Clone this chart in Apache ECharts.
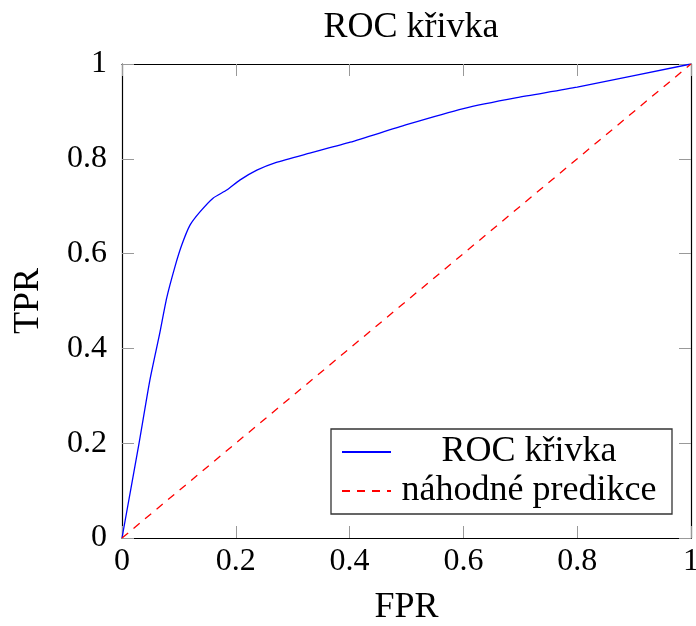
<!DOCTYPE html>
<html>
<head>
<meta charset="utf-8">
<script src="https://cdn.jsdelivr.net/npm/echarts@6/dist/echarts.min.js"></script>
<style>
  html, body { margin: 0; padding: 0; background: #fff; }
  #chart { width: 696px; height: 626px; }
</style>
</head>
<body>
<div id="chart"></div>
<script>
// ROC curve
const rocFpr = [0, 0.030, 0.049, 0.066, 0.0785, 0.093, 0.105, 0.1195, 0.137, 0.160, 0.184, 0.207, 0.237, 0.270, 0.330, 0.401, 0.500, 0.600, 0.694, 0.800, 1];
const rocTpr = [0, 0.200, 0.333, 0.430, 0.506, 0.572, 0.618, 0.660, 0.688, 0.717, 0.734, 0.755, 0.776, 0.792, 0.812, 0.835, 0.872, 0.906, 0.929, 0.951, 1];
// random-guess diagonal
const randFpr = [0, 1];
const randTpr = [0, 1];
const seriesNames = ["ROC křivka", "náhodné predikce"];
const tickLabels = ["0", "0.2", "0.4", "0.6", "0.8", "1"];

const FONT = "Liberation Serif";
const zip = (xs, ys) => xs.map((x, i) => [x, ys[i]]);
const tickFmt = (v) => tickLabels[Math.round(v / 0.2)] ?? "";

const frameAxis = (extra) => Object.assign({
  type: "value", min: 0, max: 1, interval: 0.2,
  axisLine: { show: true, onZero: false, lineStyle: { color: "#000", width: 1.2 } },
  axisTick: { show: true, inside: true, length: 12, lineStyle: { color: "#999", width: 1 } },
  splitLine: { show: false },
}, extra);

const chart = echarts.init(document.getElementById("chart"));
chart.setOption({
  animation: false,
  title: {
    text: "ROC křivka",
    left: 406, top: 5, textAlign: "center",
    textStyle: { fontFamily: FONT, fontSize: 36, fontWeight: "normal", color: "#000" },
  },
  grid: { left: 122, right: 5, top: 64, bottom: 88, outerBoundsMode: "none" },
  legend: {
    orient: "vertical", left: 331, top: 429,
    padding: [5, 10, 5, 10], itemGap: 3, itemWidth: 49, itemHeight: 14,
    borderColor: "#333", borderWidth: 1.3, backgroundColor: "#fff",
    itemStyle: { opacity: 0 },
    data: seriesNames,
    formatter: (n) => "{c|" + n + "}",
    textStyle: {
      fontFamily: FONT, fontSize: 36, color: "#000",
      rich: { c: { width: 266, align: "center", lineHeight: 40, fontFamily: FONT, fontSize: 36 } },
    },
  },
  xAxis: [
    frameAxis({
      position: "bottom",
      name: "FPR", nameLocation: "middle", nameGap: 52,
      nameTextStyle: { fontFamily: FONT, fontSize: 36, color: "#000" },
      axisLabel: { fontFamily: FONT, fontSize: 32, color: "#000", margin: 8, formatter: tickFmt },
    }),
    frameAxis({ position: "top", axisLabel: { show: false } }),
  ],
  yAxis: [
    frameAxis({
      position: "left",
      name: "TPR", nameLocation: "middle", nameGap: 75, nameRotate: 90,
      nameTextStyle: { fontFamily: FONT, fontSize: 36, color: "#000" },
      axisLabel: { fontFamily: FONT, fontSize: 32, color: "#000", margin: 15, formatter: tickFmt },
    }),
    frameAxis({ position: "right", axisLabel: { show: false } }),
  ],
  series: [
    {
      name: seriesNames[0], type: "line", symbol: "none",
      smooth: 0.2,
      color: "#0000ff",
      lineStyle: { color: "#0000ff", width: 1.3 },
      data: zip(rocFpr, rocTpr),
    },
    {
      name: seriesNames[1], type: "line", symbol: "none",
      color: "#ff0000",
      lineStyle: { color: "#ff0000", width: 1.3, type: [8, 7] },
      data: zip(randFpr, randTpr),
    },
  ],
});
</script>
</body>
</html>
